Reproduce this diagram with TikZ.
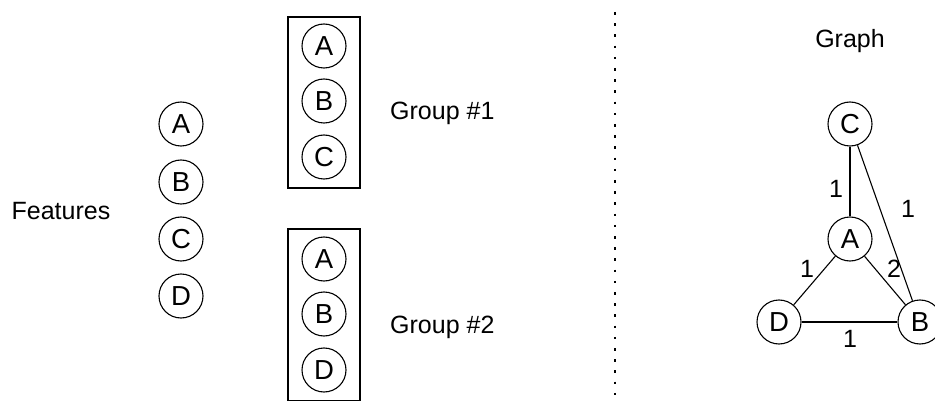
\documentclass[tikz,border=0pt]{standalone}
\usepackage{fontspec}
\setmainfont{Liberation Sans}
\begin{document}
\begin{tikzpicture}[x=1pt,y=-1pt,
  every node/.style={font=\fontsize{25}{29}\selectfont},
  vert/.style={draw,circle,line width=1.1pt,minimum size=44pt,inner sep=0pt,font=\fontsize{27.5}{31}\selectfont},
  grp/.style={draw,line width=1.1pt},
  edge/.style={line width=1.1pt},
  lbl/.style={inner sep=0pt,anchor=base},
  sep/.style={line width=2.6pt,dash pattern=on 2.6pt off 8.6pt}]
\useasboundingbox (0,0) rectangle (935,401);
\begin{scope}
\clip (0,0) rectangle (935,401);
% Features column
\node[lbl] (feat) at (61,219) {Features};
\node[vert] (fa) at (181,124) {A};
\node[vert] (fb) at (181,182) {B};
\node[vert] (fc) at (181,239) {C};
\node[vert] (fd) at (181,296) {D};
% groups
\node[grp,minimum width=72pt,minimum height=171pt,inner sep=0pt] (g1) at (324,102.5) {};
\node[vert] (g1a) at (324,46) {A};
\node[vert] (g1b) at (324,101) {B};
\node[vert] (g1c) at (324,157) {C};
\node[lbl,anchor=base west] (g1t) at (390,120) {Group \#1};
\node[grp,minimum width=72pt,minimum height=172pt,inner sep=0pt] (g2) at (324,315) {};
\node[vert] (g2a) at (324,259) {A};
\node[vert] (g2b) at (324,314) {B};
\node[vert] (g2d) at (324,370) {D};
\node[lbl,anchor=base west] (g2t) at (390,333) {Group \#2};
% separator
\coordinate (s1) at (615,12);
\coordinate (s2) at (615,405);
\draw[sep] (s1) -- (s2);
% graph
\node[lbl] (gt) at (850,48) {Graph};
\node[vert] (C) at (850,124) {C};
\node[vert] (A) at (850,239) {A};
\node[vert] (D) at (779,322) {D};
\node[vert] (B) at (920,322) {B};
\draw[edge] (C) -- (A);
\draw[edge] (C) -- (B);
\draw[edge] (A) -- (D);
\draw[edge] (A) -- (B);
\draw[edge] (D) -- (B);
\node[lbl] (l1) at (836,197) {1};
\node[lbl] (l2) at (908,218) {1};
\node[lbl] (l3) at (807,277) {1};
\node[lbl] (l4) at (894,277) {2};
\node[lbl] (l5) at (850,347) {1};
\end{scope}
\end{tikzpicture}
\end{document}
